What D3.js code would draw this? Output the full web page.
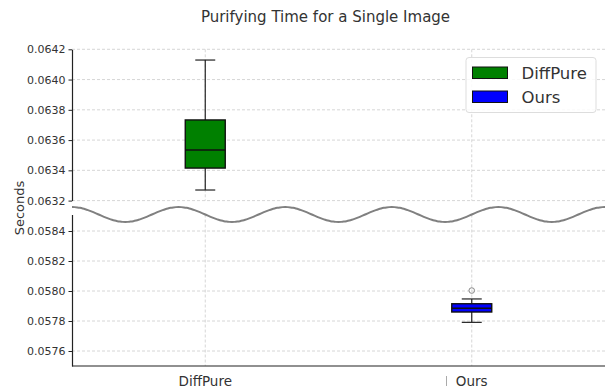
<!DOCTYPE html>
<html>
<head>
<meta charset="utf-8">
<script src="https://cdn.jsdelivr.net/npm/d3@7"></script>
<style>
  body { margin: 0; background: #fff; }
  text { font-family: "DejaVu Sans", sans-serif; }
</style>
</head>
<body>
<div id="chart"></div>
<script>
// box plot data
const groups = ["DiffPure", "Ours"];
const whiskLo = [0.063270, 0.057791];
const q1 = [0.063415, 0.057860];
const medians = [0.063534, 0.057885];
const q3 = [0.063733, 0.057915];
const whiskHi = [0.064129, 0.057947];
const outliers = [[], [0.058003]];

const upperTicks = [0.0632, 0.0634, 0.0636, 0.0638, 0.0640, 0.0642];
const lowerTicks = [0.0576, 0.0578, 0.0580, 0.0582, 0.0584];

const svgWidth = 611, svgHeight = 390;
const left = 72, right = 605;

const svg = d3.select("#chart")
  .append("svg")
  .attr("width", svgWidth)
  .attr("height", svgHeight);

const xScale = d3.scaleBand()
  .domain(groups)
  .range([left, right])
  .padding(0);
const bw = xScale.bandwidth();
const cx = (d) => xScale(d) + bw / 2;

const color = d3.scaleOrdinal().domain(groups).range(["#008000", "#0000ff"]);

// two panels of the broken axis
const yTop = d3.scaleLinear().domain([0.0632, 0.0642]).range([200.6, 49.3]);
const yBot = d3.scaleLinear().domain([0.0575, 0.05851]).range([366, 214.5]);

const panels = [
  { y: yTop, ticks: upperTicks },
  { y: yBot, ticks: lowerTicks }
];

panels.forEach((p) => {
  const g = svg.append("g");
  const [y0, y1] = p.y.range();

  // horizontal grid
  g.selectAll(".hgrid")
    .data(p.ticks)
    .enter()
    .append("line")
    .attr("x1", left).attr("x2", right)
    .attr("y1", (d) => p.y(d)).attr("y2", (d) => p.y(d))
    .attr("stroke", "#cccccc")
    .attr("stroke-width", 0.8)
    .attr("stroke-dasharray", "3,2");

  // vertical grid
  g.selectAll(".vgrid")
    .data(groups)
    .enter()
    .append("line")
    .attr("x1", cx).attr("x2", cx)
    .attr("y1", y1).attr("y2", y0)
    .attr("stroke", "#cccccc")
    .attr("stroke-width", 0.8)
    .attr("stroke-dasharray", "3,2");

  // y axis
  const ax = g.append("g")
    .attr("transform", `translate(${left},0)`)
    .call(d3.axisLeft(p.y).tickValues(p.ticks).tickFormat(d3.format(".4f")).tickSize(3.5).tickSizeOuter(0).tickPadding(3));
  ax.select(".domain").attr("stroke", "#222").attr("stroke-width", 1.2);
  ax.selectAll(".tick line").attr("stroke", "#222");
  ax.selectAll("text").attr("font-size", 11).attr("fill", "#333")
    .attr("font-family", "DejaVu Sans");

  // boxes
  groups.forEach((grp, i) => {
    const y = p.y;
    const [lo, hi] = y.domain();
    if (medians[i] < lo || medians[i] > hi) return;
    const x = cx(grp);
    const boxW = bw * 0.15, capW = boxW / 2;

    g.append("line")
      .attr("x1", x).attr("x2", x)
      .attr("y1", y(whiskHi[i])).attr("y2", y(q3[i]))
      .attr("stroke", "#222").attr("stroke-width", 1.2);
    g.append("line")
      .attr("x1", x).attr("x2", x)
      .attr("y1", y(q1[i])).attr("y2", y(whiskLo[i]))
      .attr("stroke", "#222").attr("stroke-width", 1.2);
    [whiskHi[i], whiskLo[i]].forEach((v) => {
      g.append("line")
        .attr("x1", x - capW / 2).attr("x2", x + capW / 2)
        .attr("y1", y(v)).attr("y2", y(v))
        .attr("stroke", "#222").attr("stroke-width", 1.2);
    });
    g.append("rect")
      .attr("x", x - boxW / 2)
      .attr("y", y(q3[i]))
      .attr("width", boxW)
      .attr("height", y(q1[i]) - y(q3[i]))
      .attr("fill", color(grp))
      .attr("stroke", "#111")
      .attr("stroke-width", 1.4);
    g.append("line")
      .attr("x1", x - boxW / 2).attr("x2", x + boxW / 2)
      .attr("y1", y(medians[i])).attr("y2", y(medians[i]))
      .attr("stroke", "#111").attr("stroke-width", 1.4);
    g.selectAll(null)
      .data(outliers[i])
      .enter()
      .append("circle")
      .attr("cx", x).attr("cy", (d) => y(d))
      .attr("r", 2.8)
      .attr("fill", "none")
      .attr("stroke", "#888")
      .attr("stroke-width", 1);
  });
});

// bottom spine
svg.append("line")
  .attr("x1", left).attr("x2", right)
  .attr("y1", yBot.range()[0]).attr("y2", yBot.range()[0])
  .attr("stroke", "#222").attr("stroke-width", 1.2);

// x labels
svg.selectAll(".xlab")
  .data(groups)
  .enter()
  .append("text")
  .attr("x", cx)
  .attr("y", 386)
  .attr("text-anchor", "middle")
  .attr("font-size", 13.5)
  .attr("fill", "#333")
  .text((d) => d);

svg.append("line")
  .attr("x1", 446.5).attr("x2", 446.5)
  .attr("y1", 376).attr("y2", 386)
  .attr("stroke", "#aaa").attr("stroke-width", 1);

// break wave
const waveCycles = 5;
const waveY = 214.5, waveAmp = 7.5;
const wavePts = d3.range(0, 201).map((k) => {
  const t = k / 200;
  return [left + t * (right - left), waveY - waveAmp * Math.cos(2 * Math.PI * waveCycles * t)];
});
svg.append("path")
  .attr("d", d3.line().curve(d3.curveBasis)(wavePts))
  .attr("fill", "none")
  .attr("stroke", "#808080")
  .attr("stroke-width", 2);

// y label
svg.append("text")
  .attr("transform", "rotate(-90)")
  .attr("x", -208)
  .attr("y", 24)
  .attr("text-anchor", "middle")
  .attr("font-size", 13)
  .attr("fill", "#333")
  .text("Seconds");

// title
svg.append("text")
  .attr("x", 325.5)
  .attr("y", 22)
  .attr("text-anchor", "middle")
  .attr("font-size", 15)
  .attr("fill", "#333")
  .text("Purifying Time for a Single Image");

// legend
const legend = svg.append("g");
legend.append("rect")
  .attr("x", 466).attr("y", 57.5)
  .attr("width", 130).attr("height", 55)
  .attr("rx", 3)
  .attr("fill", "#fff").attr("fill-opacity", 0.85)
  .attr("stroke", "#dddddd");
groups.forEach((grp, i) => {
  legend.append("rect")
    .attr("x", 472.5).attr("y", 67 + i * 24)
    .attr("width", 35).attr("height", 11.5)
    .attr("fill", color(grp))
    .attr("stroke", "#111").attr("stroke-width", 1);
  legend.append("text")
    .attr("x", 521.5).attr("y", 78.5 + i * 24)
    .attr("font-size", 16.5)
    .attr("fill", "#333")
    .text(grp);
});
</script>
</body>
</html>
